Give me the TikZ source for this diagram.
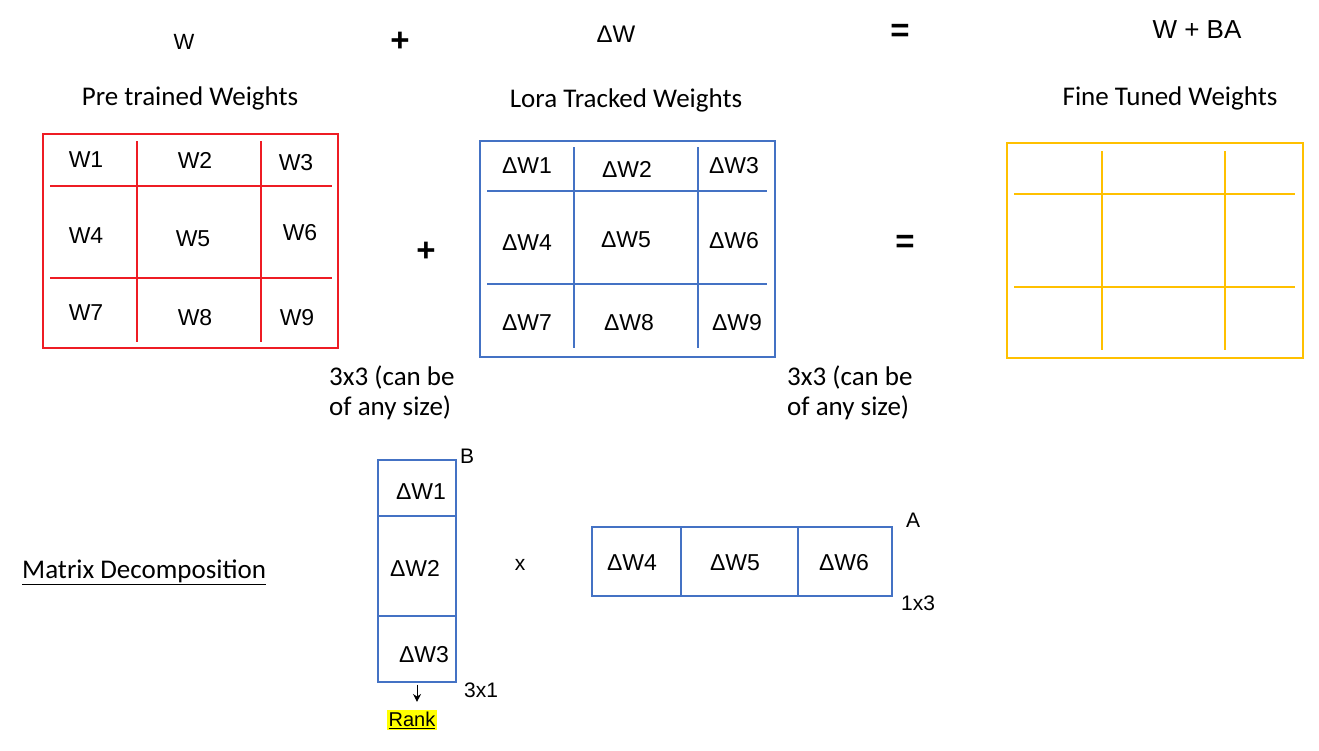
\documentclass[tikz,border=0pt]{standalone}
\usepackage{fontspec}
\setmainfont{Carlito}
\newfontfamily\arialfont{Liberation Sans}
\usetikzlibrary{arrows.meta, positioning}
\definecolor{pptred}{HTML}{EE1C24}
\definecolor{pptblue}{HTML}{4472C4}
\definecolor{pptgold}{HTML}{FFC000}
\definecolor{markyellow}{HTML}{FFFF00}

\begin{document}
\begin{tikzpicture}[x=1pt, y=-1pt,
    calibri/.style={font=\fontsize{27}{30}\selectfont, inner sep=0pt},
    heading/.style={font=\arialfont\fontsize{22}{26}\selectfont, inner sep=0pt},
    cell/.style={font=\arialfont\fontsize{23}{26}\selectfont, inner sep=0pt},
    tag/.style={font=\arialfont\fontsize{21}{24}\selectfont, inner sep=0pt},
    opsign/.style={font=\arialfont\bfseries\fontsize{33}{36}\selectfont, inner sep=0pt},
    redgrid/.style={draw=pptred, line width=2.6pt},
    bluegrid/.style={draw=pptblue, line width=2.3pt},
    goldgrid/.style={draw=pptgold, line width=2.6pt},
    thinblue/.style={draw=pptblue, line width=1.3pt}
]
    \useasboundingbox (0,0) rectangle (1319,750);

    % top row: the formula
    \node[heading] (wtop) at (184,42) {W};
    \node[opsign] (plustop) at (400,42) {+};
    \node[heading, font=\arialfont\fontsize{24}{28}\selectfont] (dwtop) at (616,34) {ΔW};
    \node[opsign] (eqtop) at (900,33) {=};
    \node[heading, font=\arialfont\fontsize{26}{30}\selectfont] (wba) at (1197,30) {W + BA};

    % titles
    \node[calibri] (pretitle) at (190,98) {Pre trained Weights};
    \node[calibri] (loratitle) at (626,100) {Lora Tracked Weights};
    \node[calibri] (finetitle) at (1170,98) {Fine Tuned Weights};

    % pre trained matrix
    \draw[redgrid] (43,134) rectangle (338,348);
    \draw[redgrid] (50,186) -- (332,186) (50,278) -- (332,278)
                   (137,141) -- (137,342) (261,141) -- (261,342);
    \node[cell] (w1) at (86,160) {W1};
    \node[cell] (w2) at (195,160) {W2};
    \node[cell] (w3) at (296,163) {W3};
    \node[cell] (w4) at (86,236) {W4};
    \node[cell] (w5) at (193,239) {W5};
    \node[cell] (w6) at (300,233) {W6};
    \node[cell] (w7) at (86,313) {W7};
    \node[cell] (w8) at (195,318) {W8};
    \node[cell] (w9) at (297,318) {W9};

    \node[opsign] (plusmid) at (426,252) {+};

    % lora matrix
    \draw[bluegrid] (480,141) rectangle (775,357);
    \draw[bluegrid] (487,191) -- (767,191) (487,284) -- (767,284)
                    (574,147) -- (574,348) (698,147) -- (698,348);
    \node[cell] (dw1) at (527,166) {ΔW1};
    \node[cell] (dw2) at (627,169) {ΔW2};
    \node[cell] (dw3) at (734,166) {ΔW3};
    \node[cell] (dw4) at (527,243) {ΔW4};
    \node[cell] (dw5) at (626,240) {ΔW5};
    \node[cell] (dw6) at (734,241) {ΔW6};
    \node[cell] (dw7) at (527,323) {ΔW7};
    \node[cell] (dw8) at (629,323) {ΔW8};
    \node[cell] (dw9) at (737,323) {ΔW9};

    \node[opsign] (eqmid) at (905,244) {=};

    % fine tuned matrix (empty)
    \draw[goldgrid] (1007,143) rectangle (1303,358);
    \draw[goldgrid] (1014,194) -- (1295,194) (1014,287) -- (1295,287)
                    (1102,151) -- (1102,350) (1225,151) -- (1225,350);

    % size notes
    \node[calibri, align=left, anchor=west] (sizepre) at (329,393) {3x3 (can be\\of any size)};
    \node[calibri, align=left, anchor=west] (sizelora) at (787,393) {3x3 (can be\\of any size)};

    % decomposition
    \node[calibri, anchor=west] (decomp) at (22,572) {\underline{Matrix Decomposition}};

    \node[thinblue, minimum width=78pt, minimum height=222pt, inner sep=0pt] (bmat) at (417,571) {};
    \draw[thinblue] (bmat.west |- 0,516) -- (bmat.east |- 0,516)
                    (bmat.west |- 0,616) -- (bmat.east |- 0,616);
    \node[cell] (b1) at (421,492) {ΔW1};
    \node[cell] (b2) at (415,568) {ΔW2};
    \node[cell] (b3) at (424,655) {ΔW3};
    \node[tag] (blabel) at (467,456) {B};
    \node[tag] (bsize) at (481,690) {3x1};

    \node[tag] (times) at (520,565) {x};

    \node[thinblue, minimum width=300pt, minimum height=69pt, inner sep=0pt] (amat) at (742,561.5) {};
    \draw[thinblue] (amat.north -| 681,0) -- (amat.south -| 681,0)
                    (amat.north -| 798,0) -- (amat.south -| 798,0);
    \node[cell] (a4) at (632,563) {ΔW4};
    \node[cell] (a5) at (735,563) {ΔW5};
    \node[cell] (a6) at (844,563) {ΔW6};
    \node[tag] (alabel) at (913,520) {A};
    \node[tag] (asize) at (918,603) {1x3};

    % rank marker
    \node[font=\arialfont\fontsize{20}{22}\selectfont, fill=markyellow, inner sep=1.5pt] (rank) at (412,720) {\underline{Rank}};
    \draw[-{Stealth[length=8pt,width=8pt]}, line width=1pt, shorten >=8pt, shorten <=2pt] (bmat.south) -- (rank.north -| bmat.south);
\end{tikzpicture}
\end{document}
